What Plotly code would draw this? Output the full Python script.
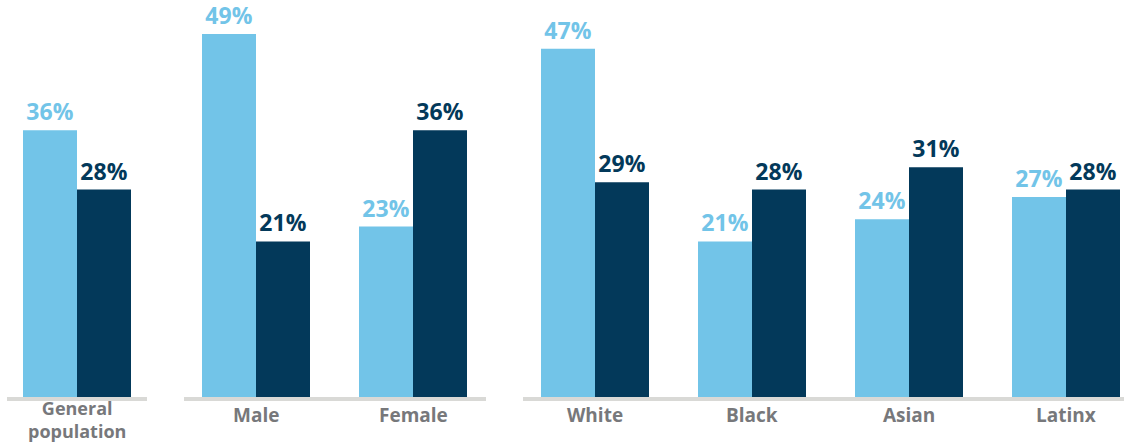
import plotly.graph_objects as go

# Values shown on the chart (percent)
categories = ["General population", "Male", "Female", "White", "Black", "Asian", "Latinx"]
series_light = [36, 49, 23, 47, 21, 24, 27]
series_dark = [28, 21, 36, 29, 28, 31, 28]
# which panel each category belongs to
panel_of = [0, 1, 1, 2, 2, 2, 2]

LIGHT = "#72c4e8"
DARK = "#03395a"
LABEL_GRAY = "#77787b"
BASE_GRAY = "#d9d9d6"

W, H = 1124, 443
BASE_Y = 397          # pixel row of the bar baseline
UNIT = 157            # pixels per category slot
# panel pixel extents (left, right) and left padding in pixels
panels = [(7, 147, 70), (184, 486, 72), (523, 1124, 72)]

fig = go.Figure()
axis_names = ["x", "x2", "x3"]

for p, (left, right, pad) in enumerate(panels):
    idx = [i for i, g in enumerate(panel_of) if g == p]
    cats = [categories[i] for i in idx]
    xa = axis_names[p]
    for vals, color in ((series_light, LIGHT), (series_dark, DARK)):
        v = [vals[i] for i in idx]
        fig.add_trace(go.Bar(
            x=cats, y=v, xaxis=xa, yaxis="y",
            marker=dict(color=color, line=dict(width=0)),
            text=[f"{n}%" for n in v], textposition="outside",
            textfont=dict(family="Open Sans", size=23, color=color, weight=700),
            cliponaxis=False, showlegend=False, hoverinfo="skip",
        ))
    r0 = -pad / UNIT
    r1 = r0 + (right - left) / UNIT
    key = "xaxis" if p == 0 else f"xaxis{p + 1}"
    fig.layout[key] = dict(
        domain=[left / W, right / W], range=[r0, r1], type="category",
        anchor="y", showline=True, linecolor=BASE_GRAY, linewidth=4,
        showticklabels=False, ticks="", showgrid=False, zeroline=False,
        fixedrange=True,
    )
    # category names under the baseline (long names wrap onto two lines)
    for c in cats:
        lines = c.split(" ")
        wrapped = len(lines) > 1
        fig.add_annotation(
            x=c, xref=xa, y=(H - (419 if wrapped else 415)) / H, yref="paper",
            text="<br>".join(lines), showarrow=False,
            yanchor="middle", xanchor="center", align="center",
            borderwidth=0, borderpad=0,
            font=dict(family="Open Sans", size=18 if wrapped else 19,
                      color=LABEL_GRAY, weight=700),
        )

ymax = 49 * BASE_Y / 363
fig.update_layout(
    width=W, height=H,
    margin=dict(l=0, r=0, t=0, b=0),
    paper_bgcolor="white", plot_bgcolor="white",
    barmode="group", bargap=1 - 108 / UNIT, bargroupgap=0,
    yaxis=dict(domain=[(H - BASE_Y) / H, 1], range=[0, ymax], visible=False,
               anchor="x", fixedrange=True),
)

fig.write_html("out.html")
